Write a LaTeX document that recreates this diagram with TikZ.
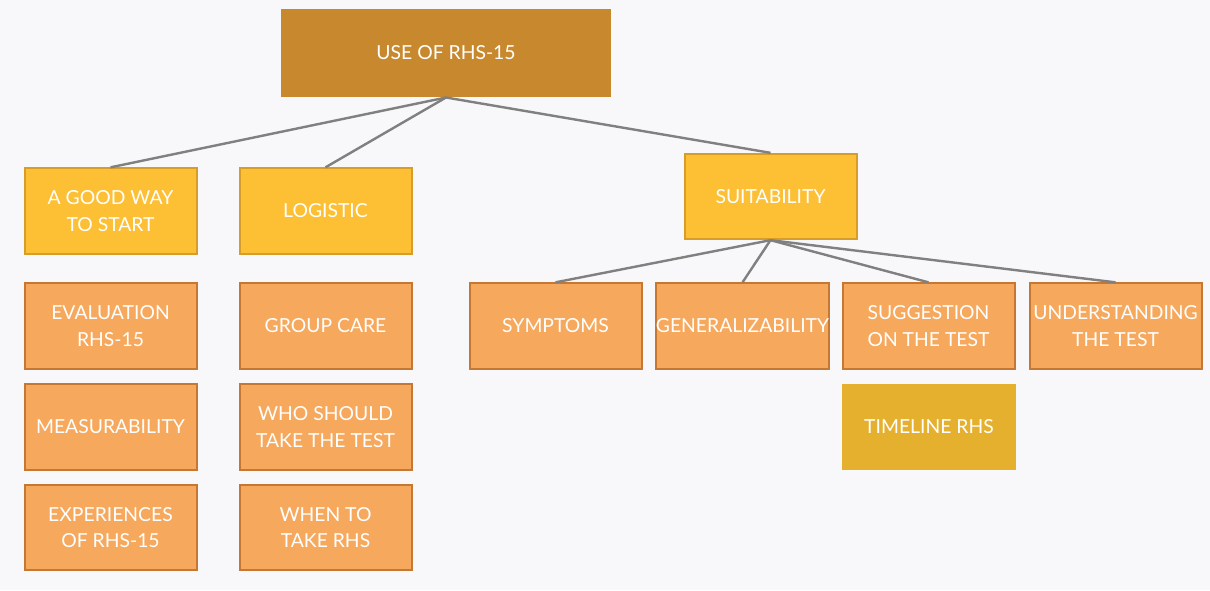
\documentclass[tikz,border=0pt]{standalone}
\usepackage{fontspec}
\setmainfont{Lato}

\tikzset{every picture/.style={line width=0.75pt}}
\tikzset{
  box/.style={rectangle, inner sep=0pt, minimum width=129pt, minimum height=64pt, align=center, text=white, font=\fontsize{14.5}{20}\selectfont},
  rootbox/.style={box, fill={rgb, 255:red, 200; green, 137; blue, 46 }, minimum width=247pt, minimum height=66pt},
  topicbox/.style={box, draw={rgb, 255:red, 214; green, 158; blue, 40 }, line width=1.5pt, fill={rgb, 255:red, 253; green, 191; blue, 51 }},
  itembox/.style={box, draw={rgb, 255:red, 196; green, 120; blue, 52 }, line width=1.5pt, fill={rgb, 255:red, 246; green, 168; blue, 93 }},
  timebox/.style={box, fill={rgb, 255:red, 229; green, 176; blue, 46 }, minimum width=130pt},
  link/.style={draw={rgb, 255:red, 128; green, 128; blue, 128 }, line width=1.8pt}
}

\begin{document}
\begin{tikzpicture}[x=0.75pt,y=0.75pt,yscale=-1,xscale=1]
%background
\fill [fill={rgb, 255:red, 248; green, 248; blue, 250 }] (0,0) rectangle (1210,590);

%Root
\node [rootbox] (root) at (446,53) {USE OF RHS-15};

%Topics
\node [topicbox] (start) at (110.5,211) {A GOOD WAY\\TO START};
\node [topicbox] (logistic) at (325.5,211) {LOGISTIC};
\node [topicbox] (suit) at (770.5,196.5) {SUITABILITY};

%Items under A GOOD WAY TO START
\node [itembox] (eval) at (110.5,326) {EVALUATION\\RHS-15};
\node [itembox] (measure) at (110.5,427) {MEASURABILITY};
\node [itembox] (exper) at (110.5,527.5) {EXPERIENCES\\OF RHS-15};

%Items under LOGISTIC
\node [itembox] (group) at (325.5,326) {GROUP CARE};
\node [itembox] (who) at (325.5,427) {WHO SHOULD\\TAKE THE TEST};
\node [itembox] (when) at (325.5,527.5) {WHEN TO\\TAKE RHS};

%Items under SUITABILITY
\node [itembox] (symptoms) at (555.5,326) {SYMPTOMS};
\node [itembox] (general) at (742.5,326) {GENERALIZABILITY};
\node [itembox] (suggest) at (928.5,326) {SUGGESTION\\ON THE TEST};
\node [itembox] (under) at (1115.5,326) {UNDERSTANDING\\THE TEST};
\node [timebox] (timeline) at (929,427) {TIMELINE RHS};

%Connectors
\draw [link] (root.south) -- (start.north);
\draw [link] (root.south) -- (logistic.north);
\draw [link] (root.south) -- (suit.north);
\draw [link] (suit.south) -- (symptoms.north);
\draw [link] (suit.south) -- (general.north);
\draw [link] (suit.south) -- (suggest.north);
\draw [link] (suit.south) -- (under.north);

\end{tikzpicture}
\end{document}
